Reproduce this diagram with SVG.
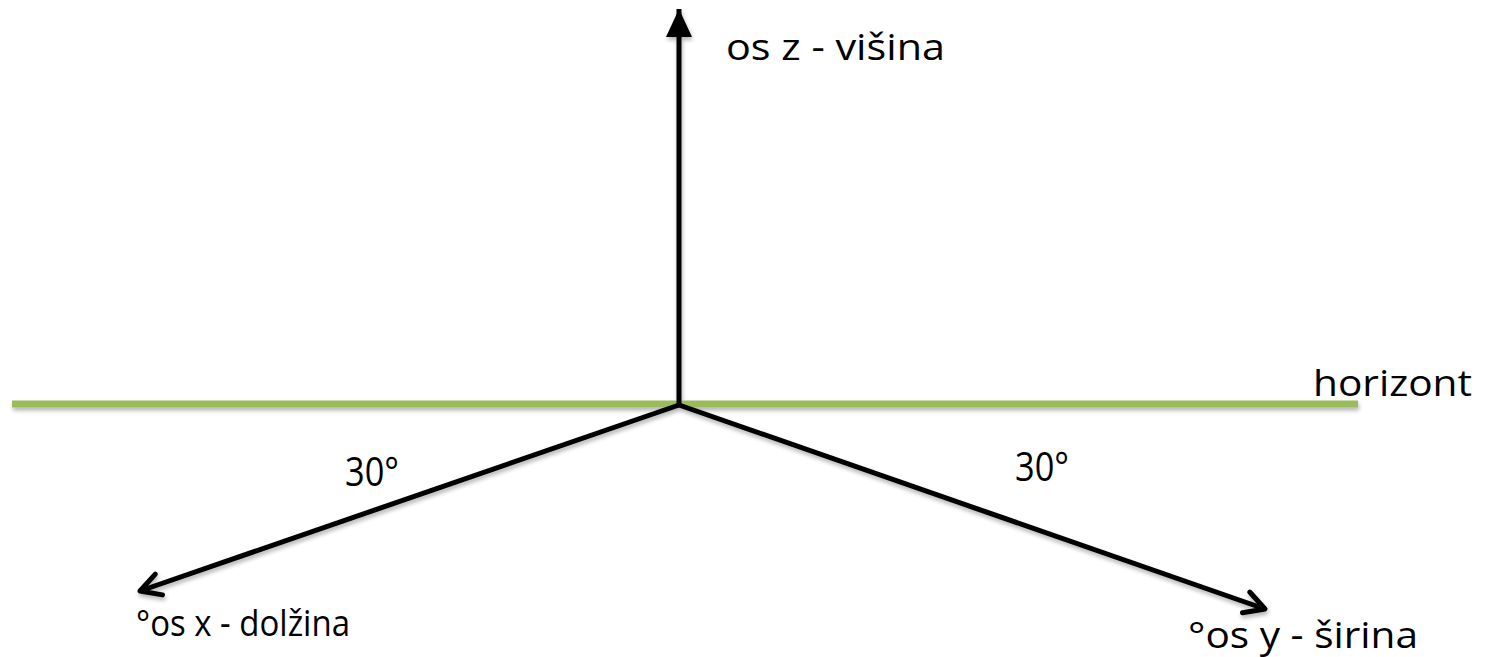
<svg xmlns="http://www.w3.org/2000/svg" width="1488" height="657" viewBox="0 0 1488 657">
  <style>
    .axis { stroke: #000; stroke-width: 5; fill: none; stroke-linecap: butt; }
    .horizon { stroke: #9BBB59; stroke-width: 7; fill: none; }
    .label { font-family: "Open Sans", "Liberation Sans", sans-serif; font-size: 37px; fill: #000; }
    .angle { font-size: 40px; }
  </style>
  <defs>
    <filter id="shadow" x="-5%" y="-20%" width="110%" height="140%">
      <feGaussianBlur in="SourceAlpha" stdDeviation="2"/>
      <feOffset dx="1" dy="3" result="b"/>
      <feComponentTransfer><feFuncA type="linear" slope="0.3"/></feComponentTransfer>
      <feMerge><feMergeNode/><feMergeNode in="SourceGraphic"/></feMerge>
    </filter>
    <marker id="filledHead" markerUnits="userSpaceOnUse" markerWidth="30" markerHeight="30" refX="28" refY="13" orient="auto">
      <path d="M0,0 L28,13 L0,26 Z" fill="#000"/>
    </marker>
    <marker id="openHead" markerUnits="userSpaceOnUse" markerWidth="30" markerHeight="30" refX="24" refY="14" orient="auto">
      <path d="M4,3 L24,14 L4,25" fill="none" stroke="#000" stroke-width="5" stroke-linecap="round" stroke-linejoin="round"/>
    </marker>
  </defs>

  <g id="connectors" filter="url(#shadow)">
    <line id="horizon-line" class="horizon" x1="12" y1="404" x2="1358" y2="404"/>
    <line id="axis-z" class="axis" x1="679" y1="406" x2="679" y2="9" marker-end="url(#filledHead)"/>
    <line id="axis-x" class="axis" x1="679" y1="405" x2="140" y2="591" marker-end="url(#openHead)"/>
    <line id="axis-y" class="axis" x1="679" y1="405" x2="1265" y2="609" marker-end="url(#openHead)"/>
  </g>

  <g id="label-z"><text class="label" x="726" y="60" textLength="219" lengthAdjust="spacingAndGlyphs">os z - višina</text></g>
  <g id="label-horizon"><text class="label" x="1313" y="396" textLength="159" lengthAdjust="spacingAndGlyphs">horizont</text></g>
  <g id="angle-left"><text class="label angle" x="345" y="486" textLength="54" lengthAdjust="spacingAndGlyphs">30°</text></g>
  <g id="angle-right"><text class="label angle" x="1015" y="481" textLength="54" lengthAdjust="spacingAndGlyphs">30°</text></g>
  <g id="label-x"><text class="label" x="136" y="636" textLength="214" lengthAdjust="spacingAndGlyphs">°os x - dolžina</text></g>
  <g id="label-y"><text class="label" x="1188" y="648" textLength="230" lengthAdjust="spacingAndGlyphs">°os y - širina</text></g>
</svg>
